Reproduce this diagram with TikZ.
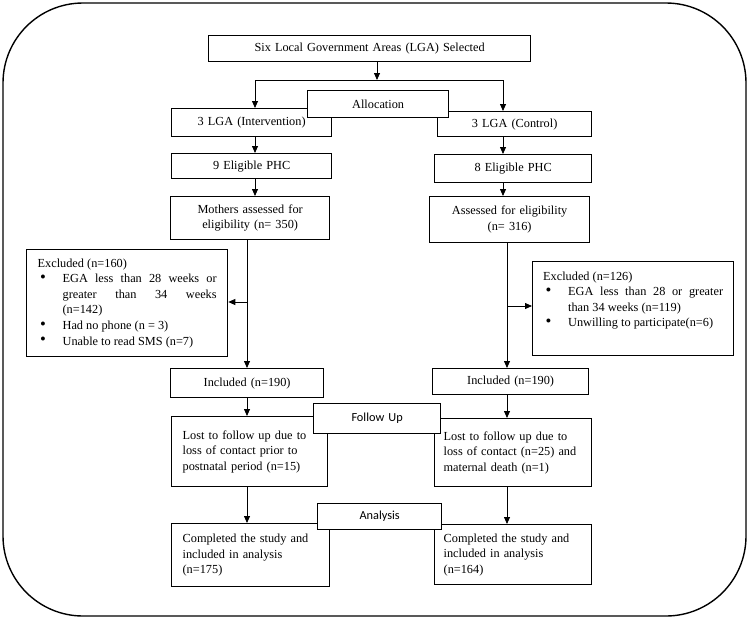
\documentclass[tikz,border=0pt]{standalone}
\usepackage{fontspec}
\setmainfont{Liberation Serif}
\newfontfamily\calib{Carlito}
\usetikzlibrary{arrows.meta}
\newcommand\bul[1]{\par\noindent\hangindent=25pt\hangafter=1\makebox[25pt][l]{\hspace{2.5pt}\raisebox{0.05ex}{\scalebox{1.35}{\textbullet}}}#1}
\tikzset{
  box/.style={draw, line width=1.3pt, fill=white, inner ysep=0pt, inner xsep=6pt,
    anchor=north west, font=\fontsize{12.3}{15.6}\selectfont, align=center},
  lbox/.style={box, inner xsep=11pt, align=left},
  jbox/.style={box, align=justify},
  stage/.style={box, font=\calib\fontsize{12.3}{15}\selectfont},
  arr/.style={line width=0.8pt, -{Triangle[length=7pt,width=6pt]}},
  ln/.style={line width=0.8pt},
  frame/.style={line width=1.4pt, rounded corners=80pt}
}
\begin{document}
\begin{tikzpicture}[x=1pt,y=-1pt]
\useasboundingbox (0,0) rectangle (750,619);
\draw[frame] (3,3) rectangle (746,616);

\node[box, minimum width=322pt, minimum height=26pt, text width=310pt] (top) at (208,35) {Six Local Government Areas (LGA) Selected};
\node[box, minimum width=160pt, minimum height=28pt, text width=148pt] (int) at (171,108) {3 LGA (Intervention)};
\node[box, minimum width=154pt, minimum height=25pt, text width=142pt] (ctl) at (437,111) {3 LGA (Control)};
\node[box, minimum width=160pt, minimum height=25pt, text width=148pt] (e9) at (171,153) {9 Eligible PHC};
\node[box, minimum width=157pt, minimum height=28pt, text width=145pt] (e8) at (434,154) {8 Eligible PHC};
\node[box, minimum width=159pt, minimum height=43pt, text width=147pt] (moth) at (170,196) {Mothers assessed for\\eligibility (n= 350)};
\node[box, minimum width=160pt, minimum height=46pt, text width=148pt] (ass) at (429,196) {Assessed for eligibility\\(n= 316)};

\node[jbox, inner xsep=11pt, minimum width=201pt, minimum height=107pt, text width=179pt] (exL) at (26,249)
 {\hyphenpenalty=10000\exhyphenpenalty=10000\noindent Excluded (n=160)
  \bul{EGA less than 28 weeks or\linebreak greater than 34 weeks\linebreak (n=142)}
  \bul{Had no phone (n = 3)}
  \bul{Unable to read SMS (n=7)}};
\node[jbox, inner xsep=10.5pt, minimum width=201pt, minimum height=94pt, text width=180pt] (exR) at (532,261)
 {\hyphenpenalty=10000\exhyphenpenalty=10000\noindent Excluded (n=126)
  \bul{EGA less than 28 or greater\linebreak than 34 weeks (n=119)}
  \bul{Unwilling to participate(n=6)}\par\noindent\rule{0pt}{15pt}};

\node[box, minimum width=153pt, minimum height=29pt, text width=141pt] (incL) at (170,368) {Included (n=190)};
\node[box, minimum width=156pt, minimum height=26pt, text width=144pt] (incR) at (432,368) {Included (n=190)};

\node[lbox, minimum width=156pt, minimum height=70pt, text width=134pt] (lostL) at (171,416) {Lost to follow up due to\\loss of contact prior to\\postnatal period (n=15)};
\node[lbox, inner xsep=9pt, minimum width=157pt, minimum height=68pt, text width=139pt] (lostR) at (434,418) {Lost to follow up due to\\loss of contact (n=25) and\\maternal death (n=1)};

\node[lbox, minimum width=158pt, minimum height=63pt, text width=136pt] (compL) at (171,523) {Completed the study and\\included in analysis\\(n=175)};
\node[lbox, inner xsep=9pt, minimum width=157pt, minimum height=60pt, text width=139pt] (compR) at (434,524) {Completed the study and\\included in analysis\\(n=164)};

% connectors
\coordinate (j) at (377,80);
\coordinate (jl) at (255,80);
\coordinate (jr) at (503,80);
\coordinate (vl) at (247,0);
\coordinate (vr) at (507,0);
\coordinate (bl) at (247,302);
\coordinate (br) at (507,306);
\draw[arr] (top.south -| j) -- (j);
\draw[ln] (jl) -- (jr);
\draw[arr] (jl) -- (jl |- int.north);
\draw[arr] (jr) -- (jr |- ctl.north);
\draw[arr] (jl |- int.south) -- (jl |- e9.north);
\draw[arr] (jr |- ctl.south) -- (jr |- e8.north);
\draw[arr] (jl |- e9.south) -- (jl |- moth.north);
\draw[arr] (jr |- e8.south) -- (jr |- ass.north);
\draw[arr] (vl |- moth.south) -- (vl |- incL.north);
\draw[arr] (vr |- ass.south) -- (vr |- incR.north);
\draw[arr] (bl) -- (bl -| exL.east);
\draw[arr] (br) -- (br -| exR.west);
\draw[arr] (vl |- incL.south) -- (vl |- lostL.north);
\draw[arr] (vr |- incR.south) -- (vr |- lostR.north);
\draw[arr] (vl |- lostL.south) -- (vl |- compL.north);
\draw[arr] (vr |- lostR.south) -- (vr |- compR.north);

% stage boxes on top
\node[box, minimum width=141pt, minimum height=27pt, text width=129pt] (alloc) at (307,90) {Allocation};
\node[stage, minimum width=127pt, minimum height=30pt, text width=115pt] (follow) at (313,403) {Follow Up};
\node[stage, minimum width=124pt, minimum height=26pt, text width=112pt] (anal) at (317,503) {Analysis};
\end{tikzpicture}
\end{document}
